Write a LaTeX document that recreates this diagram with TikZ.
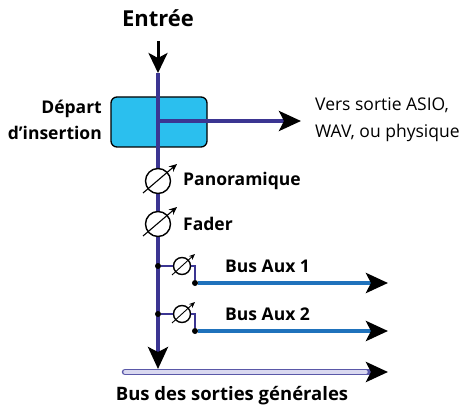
\documentclass[tikz,border=0pt]{standalone}
\usepackage{fontspec}
\setmainfont{Open Sans}
\usepackage{tikz}
\usetikzlibrary{arrows.meta, positioning, calc}

\definecolor{busline}{HTML}{3B3592}
\definecolor{boxfill}{HTML}{2BBFEE}
\definecolor{auxline}{HTML}{1F72BC}
\definecolor{busfill}{HTML}{D9D8F0}
\definecolor{busedge}{HTML}{5A58A8}

\begin{document}
\begin{tikzpicture}[x=1pt, y=-1pt,
	lbl/.style={font=\fontsize{17.5}{20}\selectfont\bfseries, inner sep=0pt},
	txt/.style={font=\fontsize{17.5}{27}\selectfont, inner sep=0pt, align=left},
	pot/.style={circle, draw, line width=1.4pt, fill=white, minimum size=25pt, inner sep=0pt},
	smallpot/.style={pot, minimum size=17pt},
	potarrow/.style={line width=1.1pt, -{Stealth[length=8pt, width=7pt]}},
	sig/.style={busline, line width=3.4pt},
	head/.style={-{Stealth[black, length=22pt, width=20pt, inset=5pt]}},
	dot/.style={circle, fill=black, inner sep=0pt, minimum size=6pt}]
	\useasboundingbox (0,0) rectangle (476,406);

	\node [font=\fontsize{22}{26}\selectfont\bfseries] (entree) at (158,18) {Entrée};
	\coordinate (in) at (158,41);
	\coordinate (top) at (158,73);
	\coordinate (bot) at (158,369);

	\node [draw, line width=1.3pt, fill=boxfill, rounded corners=6pt,
	minimum width=96pt, minimum height=50pt] (insert) at (159,122) {};
	\node [lbl, align=right, anchor=east] (depart) at (102,120) {Départ\\[6pt]d'insertion};

	% ligne principale
	\draw [black, line width=3pt, -{Stealth[length=20pt, width=19pt, inset=5pt]}] (in) -- (top);
	\draw [sig, head] (top) -- (bot);
	\coordinate (split) at (158,121);
	\coordinate (out) at (301,121);
	\draw [sig, head] (split) -- (out);
	\node [txt, anchor=west] (asio) at (315,120) {Vers sortie ASIO,\\WAV, ou physique};

	% pan et fader
	\foreach \name/\y/\txt in {pan/181/Panoramique, fader/224/Fader}
	{
		\node [pot] (\name) at (158,\y) {};
		\draw [potarrow] ([shift={(-15,12)}]\name.center) -- ([shift={(19,-17)}]\name.center);
		\node [lbl, anchor=west] (\name txt) at (183,\y) {\txt};
	}

	% bus aux
	\foreach \i/\y in {1/266, 2/314}
	{
		\node [dot] (tap\i) at (158,\y) {};
		\node [smallpot] (aux\i) at (182,\y) {};
		\draw [potarrow, line width=0.9pt, -{Stealth[length=6pt, width=5pt]}] ([shift={(-10,9)}]aux\i.center) -- ([shift={(13,-12)}]aux\i.center);
		\node [dot] (send\i) at (195,\y+17) {};
		\coordinate (auxout\i) at (388,\y+17);
		\draw [sig, line width=2.6pt] (tap\i) -- (aux\i);
		\draw [sig, line width=2.6pt] (aux\i) -| (send\i);
		\draw [auxline, line width=4.5pt, head] (send\i) -- (auxout\i);
		\node [lbl, anchor=west] (auxtxt\i) at (225,\y) {Bus Aux \i};
	}

	% bus des sorties generales
	\coordinate (busin) at (125,372);
	\coordinate (busout) at (388,372);
	\draw [busedge, line width=6.5pt, line cap=round, head] (busin) -- (busout);
	\draw [busfill, line width=3.4pt, line cap=round] (busin) -- ($(busout)+(-22,0)$);
	\node [lbl, font=\fontsize{18.5}{22}\selectfont\bfseries] (bustxt) at (232,396) {Bus des sorties générales};
\end{tikzpicture}
\end{document}
